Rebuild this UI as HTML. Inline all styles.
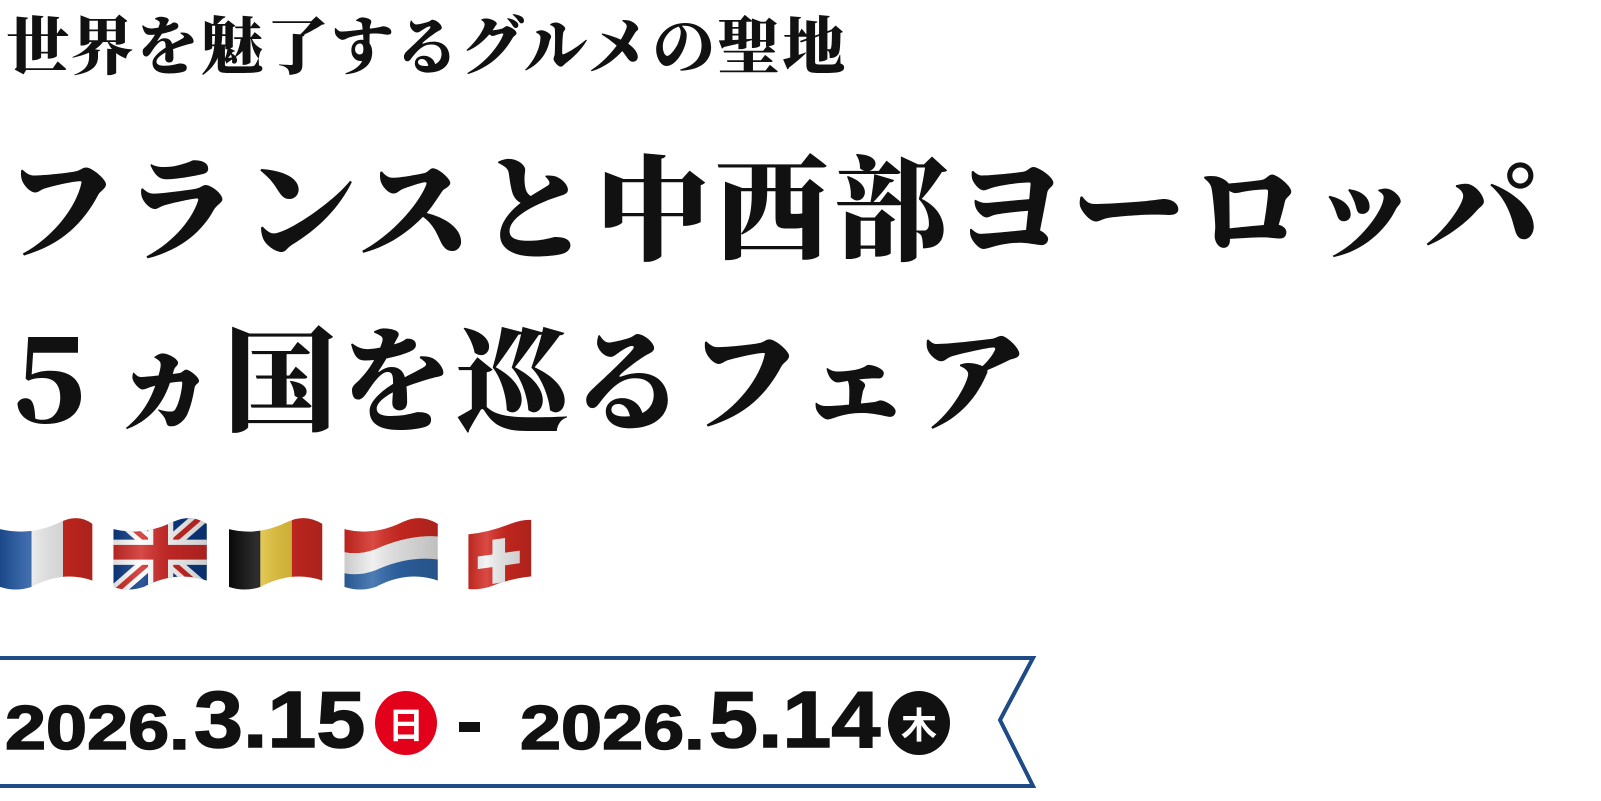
<!DOCTYPE html>
<html><head><meta charset="utf-8"><style>
html,body{margin:0;padding:0;background:#fff;}
body{width:1601px;height:801px;position:relative;overflow:hidden;font-family:"Liberation Serif","Noto Serif CJK SC",serif;color:#111;}
.t{position:absolute;white-space:nowrap;font-weight:900;}
#l1{left:6px;top:8px;font-size:63px;letter-spacing:2px;line-height:80px;}
#l2{left:4px;top:138px;font-size:114px;letter-spacing:5px;line-height:150px;}
#l3{left:-8px;top:310px;font-size:113px;letter-spacing:3px;line-height:150px;}
.d{position:absolute;font-family:"Liberation Sans",sans-serif;font-weight:bold;white-space:nowrap;transform-origin:0 0;line-height:1;-webkit-text-stroke:1.5px #111;}
.s{font-size:62px;top:698px;transform:scaleX(1.19);}
.b{font-size:80px;top:680px;transform:scaleX(1.1);}
.c{position:absolute;border-radius:50%;color:#fff;font-family:"Noto Sans CJK JP",sans-serif;font-weight:bold;font-size:36px;text-align:center;line-height:64px;width:62px;height:64px;top:691px;}
</style></head><body>
<div class="t" id="l1">世界を魅了するグルメの聖地</div>
<div class="t" id="l2">フランスと中西部ヨーロッパ</div>
<div class="t" id="l3">５ヵ国を巡るフェア</div>

<svg width="1601" height="801" style="position:absolute;left:0;top:0">
<defs>
<linearGradient id="sh" x1="0" x2="1"><stop offset="0" stop-color="#000" stop-opacity=".15"/><stop offset=".3" stop-color="#fff" stop-opacity=".15"/><stop offset=".6" stop-color="#000" stop-opacity=".1"/><stop offset="1" stop-color="#000" stop-opacity=".2"/></linearGradient>
</defs>
<g transform="translate(0,-20) scale(1.05)">
<clipPath id="f1"><path d="M0 523 Q30 530 58 516 Q75 508 88 518 L88 572 Q60 562 30 578 Q15 583 0 578Z"/></clipPath>
<g clip-path="url(#f1)"><rect x="0" y="500" width="30" height="90" fill="#1f55a0"/><rect x="30" y="500" width="30" height="90" fill="#eee"/><rect x="60" y="500" width="30" height="90" fill="#d42a22"/><rect x="0" y="500" width="90" height="90" fill="url(#sh)"/></g>
<clipPath id="f2"><path d="M108 523 Q137 530 165 516 Q182 508 197 518 L197 572 Q167 562 137 578 Q122 583 108 578Z"/></clipPath>
<g clip-path="url(#f2)"><rect x="107" y="500" width="92" height="90" fill="#0c3a85"/>
<path d="M107 505 L199 585 M107 585 L199 505" stroke="#fff" stroke-width="14"/>
<path d="M107 505 L199 585 M107 585 L199 505" stroke="#cf2a27" stroke-width="5"/>
<rect x="107" y="533" width="92" height="24" fill="#fff"/><rect x="141" y="500" width="24" height="90" fill="#fff"/>
<rect x="107" y="538" width="92" height="14" fill="#cf2a27"/><rect x="146" y="500" width="14" height="90" fill="#cf2a27"/>
<rect x="107" y="500" width="92" height="90" fill="url(#sh)"/></g>
<clipPath id="f3"><path d="M218 523 Q246 530 274 516 Q291 508 307 518 L307 572 Q278 562 248 578 Q233 583 218 578Z"/></clipPath>
<g clip-path="url(#f3)"><rect x="218" y="500" width="30" height="90" fill="#0a0a0a"/><rect x="248" y="500" width="30" height="90" fill="#e6c640"/><rect x="278" y="500" width="30" height="90" fill="#d42a22"/><rect x="218" y="500" width="90" height="90" fill="url(#sh)"/></g>
<clipPath id="f4"><path d="M328 523 Q356 530 384 516 Q401 508 417 518 L417 572 Q388 562 358 578 Q343 583 328 578Z"/></clipPath>
<g clip-path="url(#f4)"><path d="M328 500 H418 V530 Q389 528 358 542 Q342 548 328 545Z" fill="#d42a22"/><path d="M328 545 Q342 548 358 542 Q389 528 418 530 V552 Q389 548 358 562 Q342 568 328 565Z" fill="#eee"/><path d="M328 565 Q342 568 358 562 Q389 548 418 552 V590 H328Z" fill="#2f66a8"/><rect x="328" y="500" width="90" height="90" fill="url(#sh)"/></g>
<clipPath id="f5"><path d="M446 528 Q466 526 486 518 Q496 514 506 514 L506 568 Q486 570 466 578 Q456 581 446 580Z"/></clipPath>
<g clip-path="url(#f5)"><rect x="444" y="508" width="64" height="77" fill="#d42a22"/><rect x="469" y="529" width="12" height="42" fill="#f2f2f2" transform="skewY(-8) translate(0,70)"/><rect x="455" y="543" width="40" height="12" fill="#f2f2f2" transform="skewY(-8) translate(0,70)"/><rect x="444" y="508" width="64" height="77" fill="url(#sh)"/></g>
</g>
<path d="M0 658 H1033 L1000 720 L1033 786 H0" fill="none" stroke="#1e4b86" stroke-width="4"/>
</svg>

<div class="d s" style="left:5px">2026.</div>
<div class="d b" style="left:194px">3.15</div>
<div class="c" style="left:375px;background:#e3001b">日</div>
<div class="d" style="left:459px;top:722px;width:21px;height:10px;background:#111;-webkit-text-stroke:0"></div>
<div class="d s" style="left:520px">2026.</div>
<div class="d b" style="left:709px">5.14</div>
<div class="c" style="left:888px;background:#111">木</div>
</body></html>
